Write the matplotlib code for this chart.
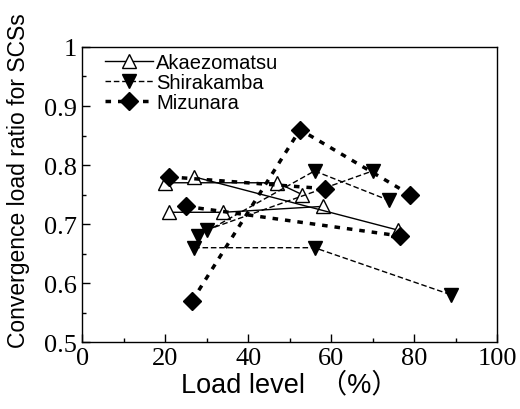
import matplotlib
matplotlib.use("Agg")
import matplotlib.pyplot as plt
from matplotlib.ticker import MultipleLocator, FormatStrFormatter

# Akaezomatsu specimens (load level %, convergence load ratio)
aka1_x = [20, 47, 53]
aka1_y = [0.77, 0.77, 0.75]
aka2_x = [21, 34, 58]
aka2_y = [0.72, 0.72, 0.73]
aka3_x = [27, 76]
aka3_y = [0.78, 0.69]

# Shirakamba specimens
shi1_x = [27, 56, 89]
shi1_y = [0.66, 0.66, 0.58]
shi2_x = [28, 56, 74]
shi2_y = [0.68, 0.79, 0.74]
shi3_x = [30, 70]
shi3_y = [0.69, 0.79]

# Mizunara specimens
miz1_x = [26.5, 52.5, 79]
miz1_y = [0.57, 0.86, 0.75]
miz2_x = [21, 58.5]
miz2_y = [0.78, 0.76]
miz3_x = [25, 76.5]
miz3_y = [0.73, 0.68]

fig = plt.figure(figsize=(5.2, 4.1), dpi=100)
ax = fig.add_axes([0.158, 0.163, 0.798, 0.720])

aka = dict(color="black", lw=1.0, ls="-", marker="^", ms=10,
           markerfacecolor="white", markeredgecolor="black", markeredgewidth=1.0)
shi = dict(color="black", lw=1.0, ls=(0, (4, 2)), marker="v", ms=10,
           markerfacecolor="black", markeredgecolor="black")
miz = dict(color="black", lw=2.5, ls=(0, (1.6, 2.0)), marker="D", ms=9,
           markerfacecolor="black", markeredgecolor="black")

ax.plot(aka1_x, aka1_y, label="Akaezomatsu", **aka)
ax.plot(aka2_x, aka2_y, **aka)
ax.plot(aka3_x, aka3_y, **aka)
ax.plot(shi1_x, shi1_y, label="Shirakamba", **shi)
ax.plot(shi2_x, shi2_y, **shi)
ax.plot(shi3_x, shi3_y, **shi)
ax.plot(miz1_x, miz1_y, label="Mizunara", **miz)
ax.plot(miz2_x, miz2_y, **miz)
ax.plot(miz3_x, miz3_y, **miz)

ax.set_xlim(0, 100)
ax.set_ylim(0.5, 1.0)
ax.xaxis.set_major_locator(MultipleLocator(20))
ax.xaxis.set_minor_locator(MultipleLocator(10))
ax.yaxis.set_major_locator(MultipleLocator(0.1))
ax.yaxis.set_minor_locator(MultipleLocator(0.05))
ax.yaxis.set_major_formatter(FormatStrFormatter("%g"))
ax.tick_params(which="both", direction="in", width=1.0)
ax.tick_params(which="major", length=6)
ax.tick_params(which="minor", length=3)
for lab in ax.get_xticklabels() + ax.get_yticklabels():
    lab.set_family("Liberation Serif")
    lab.set_fontsize(19)
for sp in ax.spines.values():
    sp.set_linewidth(1.0)

ax.set_xlabel("Load level  （%）", fontsize=19.5,
              family=["Liberation Sans", "Noto Sans CJK SC"], labelpad=2)
ax.set_ylabel("Convergence load ratio for SCSs", fontsize=16.5,
              family="Liberation Sans")
ax.yaxis.set_label_coords(-0.125, 0.55)

leg = ax.legend(loc="upper left", bbox_to_anchor=(0.03, 1.015), frameon=False,
                handlelength=2.4, handletextpad=0.15, labelspacing=0.05,
                borderaxespad=0.1, prop={"family": "Liberation Sans", "size": 14.5})

fig.savefig("out.png", dpi=100)
